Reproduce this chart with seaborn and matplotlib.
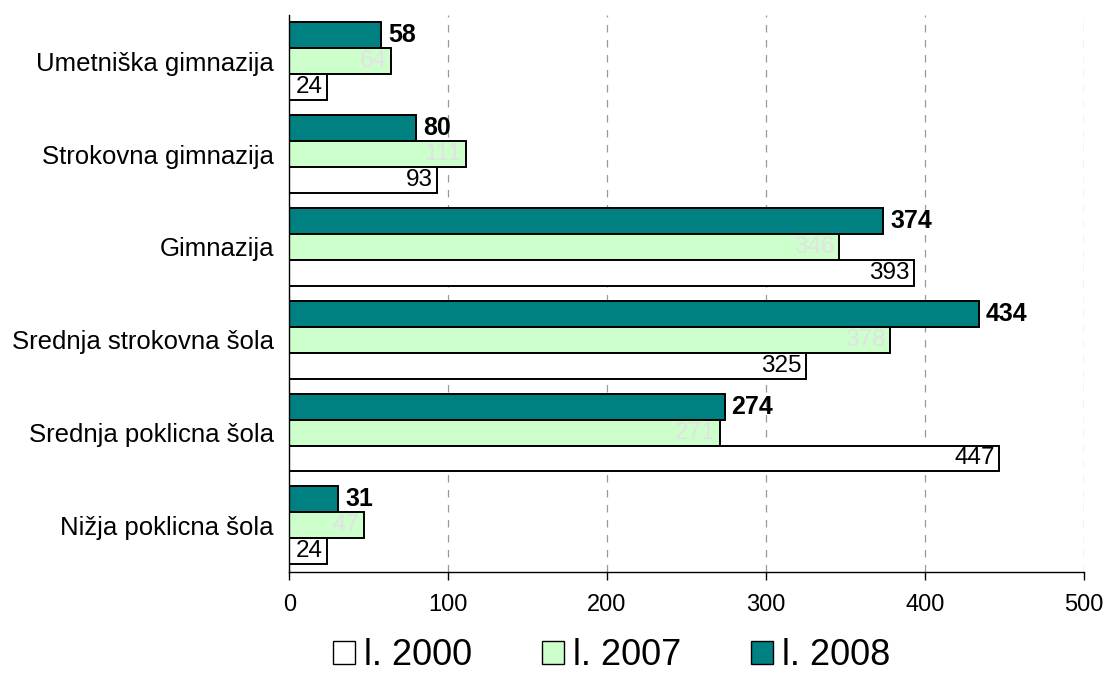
import pandas as pd
import matplotlib.pyplot as plt
import seaborn as sns
from matplotlib.patches import Patch

sns.set_theme(style="white")
plt.rcParams['font.family'] = ['Liberation Sans', 'DejaVu Sans']
plt.rcParams['text.color'] = 'black'
plt.rcParams['xtick.color'] = 'black'
plt.rcParams['ytick.color'] = 'black'

# Data
schools = ['Umetniška gimnazija', 'Strokovna gimnazija', 'Gimnazija',
           'Srednja strokovna šola', 'Srednja poklicna šola', 'Nižja poklicna šola']
y2000 = [24, 93, 393, 325, 447, 24]
y2007 = [64, 111, 346, 378, 271, 47]
y2008 = [58, 80, 374, 434, 274, 31]
years = ['l. 2000', 'l. 2007', 'l. 2008']
colors = {'l. 2000': '#FFFFFF', 'l. 2007': '#CCFFCC', 'l. 2008': '#008080'}

df = pd.DataFrame({'school': schools, 'l. 2000': y2000, 'l. 2007': y2007, 'l. 2008': y2008})
long_df = df.melt(id_vars='school', var_name='year', value_name='count')

fig = plt.figure(figsize=(11.08, 6.75), dpi=100)
ax = fig.add_axes([0.261, 0.153, 0.717, 0.825])

hue_order = ['l. 2008', 'l. 2007', 'l. 2000']
sns.barplot(data=long_df, y='school', x='count', hue='year', hue_order=hue_order,
            order=schools, palette=colors, orient='h', width=0.84, saturation=1,
            edgecolor='black', linewidth=1.4, ax=ax, legend=False)

# Value labels
values = {'l. 2000': y2000, 'l. 2007': y2007, 'l. 2008': y2008}
for cont, yr in zip(ax.containers, hue_order):
    for bar, v in zip(cont.patches, values[yr]):
        yc = bar.get_y() + bar.get_height() / 2
        xe = bar.get_x() + bar.get_width()
        if yr == 'l. 2008':
            ax.annotate(str(v), (xe, yc), xytext=(5, 0), textcoords='offset points',
                        ha='left', va='center', fontsize=18, fontweight='bold', color='black')
        else:
            ax.annotate(str(v), (xe, yc), xytext=(-3, 0), textcoords='offset points',
                        ha='right', va='center', fontsize=17.5,
                        color='#E2E2E2' if yr == 'l. 2007' else 'black')

ax.set_xlim(0, 500)
ax.set_xticks([0, 100, 200, 300, 400, 500])
ax.set_xlabel('')
ax.set_ylabel('')
ax.tick_params(axis='x', labelsize=17, length=6, width=1, direction='out', bottom=True, pad=10)
ax.tick_params(axis='y', labelsize=18.5, length=0, pad=11)
ax.xaxis.grid(True, linestyle=(0, (6, 6)), color='#999999', linewidth=0.9)
ax.set_axisbelow(True)
for s in ['top', 'right']:
    ax.spines[s].set_visible(False)
for s in ['left', 'bottom']:
    ax.spines[s].set_color('black')
    ax.spines[s].set_linewidth(1.0)

handles = [Patch(facecolor=colors[y], edgecolor='black', label=y) for y in years]
fig.legend(handles=handles, loc='lower center', bbox_to_anchor=(0.552, -0.045), ncol=3,
           frameon=False, fontsize=26, handlelength=0.6, handleheight=0.6,
           handletextpad=0.25, columnspacing=1.95)

fig.savefig('out.png', dpi=100)
